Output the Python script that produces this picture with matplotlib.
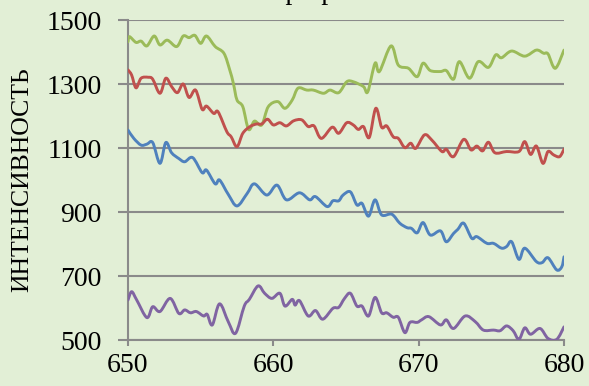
import matplotlib
matplotlib.use("Agg")
import matplotlib.pyplot as plt
import numpy as np
from matplotlib.patches import PathPatch
from matplotlib.path import Path

# wavelength (nm) / intensity, one pair of arrays per curve
green_x = [650.0, 650.1, 650.55, 650.9, 651.3, 651.8, 652.2, 652.7, 653.35, 653.8, 654.2, 654.6, 655.0, 655.4,
           656.0, 656.6, 657.0, 657.25, 657.5, 657.9, 658.3, 658.7, 659.2, 659.65, 660.3, 660.8, 661.3, 661.7,
           662.3, 662.75, 663.45, 663.9, 664.5, 665.05, 665.5, 666.2, 666.5, 667.0, 667.3, 668.1, 668.6, 669.3,
           669.9, 670.3, 670.8, 671.5, 671.9, 672.4, 672.8, 673.5, 674.1, 674.8, 675.3, 675.7, 676.4, 677.3,
           678.1, 678.6, 678.9, 679.4, 680.0]
green_y = [1432, 1448, 1430, 1434, 1419, 1450, 1422, 1437, 1417, 1450, 1445, 1452, 1427, 1450,
           1417, 1396, 1344, 1302, 1250, 1229, 1158, 1184, 1172, 1229, 1245, 1224, 1250, 1287,
           1281, 1281, 1271, 1281, 1273, 1307, 1307, 1292, 1276, 1365, 1339, 1419, 1359, 1349,
           1323, 1365, 1342, 1339, 1342, 1315, 1370, 1318, 1370, 1352, 1391, 1382, 1403, 1387,
           1406, 1396, 1394, 1349, 1406]

red_x = [650.0, 650.25, 650.55, 650.9, 651.4, 651.7, 652.2, 652.6, 653.0, 653.4, 653.8, 654.2, 654.65, 655.1,
         655.4, 655.9, 656.2, 656.8, 657.1, 657.5, 657.9, 658.4, 658.85, 659.2, 659.6, 660.0, 660.45, 660.9,
         661.4, 661.95, 662.4, 662.8, 663.3, 664.05, 664.5, 665.05, 665.5, 665.85, 666.2, 666.6, 667.05,
         667.45, 667.8, 668.25, 668.6, 669.05, 669.45, 669.8, 670.4, 670.9, 671.6, 671.9, 672.4, 673.1,
         673.6, 674.0, 674.4, 674.8, 675.25, 676.05, 676.9, 677.3, 677.7, 678.1, 678.55, 678.9, 679.3,
         679.7, 680.0]
red_y = [1344, 1328, 1288, 1318, 1321, 1315, 1271, 1318, 1292, 1273, 1300, 1258, 1281, 1221,
         1231, 1208, 1213, 1151, 1135, 1104, 1146, 1167, 1175, 1175, 1190, 1172, 1179, 1169,
         1185, 1188, 1167, 1169, 1130, 1165, 1146, 1179, 1172, 1158, 1167, 1133, 1224,
         1165, 1169, 1135, 1130, 1101, 1115, 1099, 1141, 1125, 1089, 1096, 1073, 1127,
         1094, 1106, 1091, 1118, 1085, 1089, 1089, 1120, 1080, 1106, 1052, 1089, 1078,
         1073, 1096]

blue_x = [650.0, 650.4, 650.9, 651.3, 651.7, 652.2, 652.6, 653.0, 653.5, 653.9, 654.45, 655.1, 655.4, 656.0,
          656.3, 656.9, 657.5, 658.2, 658.7, 659.55, 660.25, 660.9, 661.8, 662.5, 662.9, 663.7, 664.1,
          664.5, 664.8, 665.3, 665.75, 666.1, 666.55, 667.0, 667.45, 668.15, 668.7, 669.2, 669.5, 669.9,
          670.3, 670.8, 671.5, 671.9, 672.4, 672.7, 673.1, 673.65, 674.0, 674.7, 675.15, 675.7, 676.05,
          676.4, 676.9, 677.3, 678.1, 678.5, 678.9, 679.5, 679.85, 680.0]
blue_y = [1156, 1130, 1109, 1112, 1117, 1052, 1117, 1085, 1067, 1057, 1070, 1023, 1031, 988,
          1000, 955, 919, 958, 988, 953, 984, 938, 960, 938, 948, 917, 935,
          935, 953, 963, 922, 927, 887, 938, 891, 893, 865, 851, 849, 835,
          867, 828, 841, 807, 833, 846, 865, 818, 823, 802, 802, 787, 792,
          807, 752, 787, 745, 742, 757, 719, 729, 760]

purple_x = [650.0, 650.25, 650.6, 651.3, 651.7, 652.2, 652.9, 653.5, 653.9, 654.3, 654.7, 655.2, 655.45,
            655.8, 656.3, 656.9, 657.4, 658.0, 658.35, 658.95, 659.4, 659.9, 660.45, 660.8, 661.3, 661.5,
            661.8, 662.4, 662.9, 663.4, 664.1, 664.5, 664.9, 665.3, 665.75, 666.1, 666.55, 667.0, 667.45,
            667.8, 668.25, 668.6, 669.05, 669.4, 669.9, 670.2, 670.7, 671.5, 671.9, 672.4, 673.2, 673.9,
            674.45, 675.15, 675.6, 676.05, 676.5, 676.9, 677.3, 677.7, 678.35, 678.9, 679.5, 680.0]
purple_y = [625, 651, 625, 570, 604, 589, 630, 583, 594, 585, 589, 575, 580,
            547, 613, 557, 521, 606, 627, 669, 646, 630, 646, 606, 627, 609,
            623, 575, 592, 565, 599, 602, 630, 646, 606, 606, 575, 633, 585,
            585, 571, 571, 523, 555, 555, 563, 573, 547, 563, 536, 575, 557,
            531, 531, 529, 544, 529, 502, 538, 518, 536, 505, 502, 541]

x_ticks = [650, 660, 670, 680]
y_ticks = [500, 700, 900, 1100, 1300, 1500]
y_label = "ИНТЕНСИВНОСТЬ"
title = "Спектр пробы"

BG = "#e2efd6"
GRID = "#8a8a8a"


def smooth_path(xs, ys):
    # Excel-style smoothed line: Catmull-Rom segments as cubic Beziers through the points
    p = np.column_stack([xs, ys]).astype(float)
    ext = np.vstack([p[0], p, p[-1]])
    verts = [p[0]]
    codes = [Path.MOVETO]
    for i in range(1, len(ext) - 2):
        p0, p1, p2, p3 = ext[i - 1], ext[i], ext[i + 1], ext[i + 2]
        verts += [p1 + (p2 - p0) / 6, p2 - (p3 - p1) / 6, p2]
        codes += [Path.CURVE4] * 3
    return Path(verts, codes)


plt.rcParams["font.family"] = ["Liberation Serif", "DejaVu Serif"]

fig = plt.figure(figsize=(5.89, 3.86), dpi=100, facecolor=BG)
ax = fig.add_axes([128 / 589, 1 - 340 / 386, 436 / 589, 320 / 386])
ax.set_facecolor(BG)

series = [
    (green_x, green_y, "#9bbb59"),
    (red_x, red_y, "#c0504d"),
    (blue_x, blue_y, "#4f81bd"),
    (purple_x, purple_y, "#8064a2"),
]
for xs, ys, color in series:
    patch = PathPatch(smooth_path(xs, ys), facecolor="none", edgecolor=color,
                      linewidth=2.1, joinstyle="round", capstyle="round", zorder=3)
    ax.add_patch(patch)

ax.set_xlim(650, 680)
ax.set_ylim(500, 1500)
ax.set_xticks(x_ticks)
ax.set_yticks(y_ticks)
ax.grid(True, axis="y", color=GRID, linewidth=1.5)

for side in ["top", "right"]:
    ax.spines[side].set_visible(False)
ax.spines["left"].set_color(GRID)
ax.spines["left"].set_linewidth(1.5)
ax.spines["bottom"].set_color(GRID)
ax.spines["bottom"].set_linewidth(1.5)

ax.tick_params(axis="y", direction="out", length=7, width=1.5, color=GRID,
               labelsize=20, pad=12)
ax.tick_params(axis="x", direction="out", length=4.5, width=1.5, color=GRID,
               labelsize=20, pad=5)

fig.text(22 / 589, 1 - 180 / 386, y_label, rotation=90, ha="center", va="center",
         fontsize=18.5)
fig.text(214 / 589, 1 + 1 / 386, title, ha="left", va="baseline", fontsize=20)

fig.savefig("out.png", dpi=100, facecolor=BG)
